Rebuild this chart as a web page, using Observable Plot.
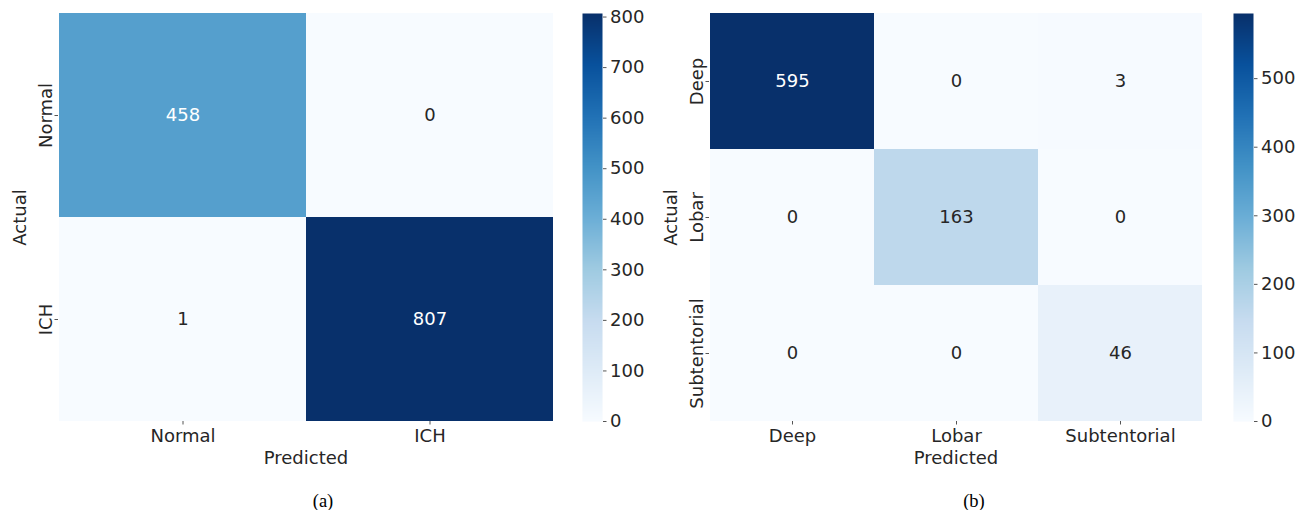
<!DOCTYPE html>
<html>
<head>
<meta charset="utf-8">
<script src="https://cdn.jsdelivr.net/npm/d3@7"></script>
<script src="https://cdn.jsdelivr.net/npm/@observablehq/plot@0.6"></script>
<style>
  body { margin: 0; background: #fff; }
  #fig { position: relative; width: 1298px; height: 510px; background: #fff; overflow: hidden; }
  #fig svg { position: absolute; top: 0; overflow: visible; max-width: none; }
  .cap {
    position: absolute; top: 501px; transform: translate(-50%, -50%);
    font-family: "Liberation Serif", "Times New Roman", serif; font-size: 18.5px; color: #000;
    line-height: 1;
  }
</style>
</head>
<body>
<div id="fig"></div>
<script>
// Hemorrhage detection: actual rows x predicted columns
const ichClasses = ["Normal", "ICH"];
const ichCounts = [
  [458, 0],
  [1, 807]
];
const ichTicks = [0, 100, 200, 300, 400, 500, 600, 700, 800];

// Hemorrhage location: actual rows x predicted columns
const locClasses = ["Deep", "Lobar", "Subtentorial"];
const locCounts = [
  [595, 0, 3],
  [0, 163, 0],
  [0, 0, 46]
];
const locTicks = [0, 100, 200, 300, 400, 500];

// Blues colour ramp
const blues = ["#f7fbff", "#deebf7", "#c6dbef", "#9ecae1", "#6baed6", "#4292c6", "#2171b5", "#08519c", "#08306b"];

const FONT = '"DejaVu Sans", sans-serif';
const FS = 18;
const INK = "#262626";
const TICK = "#555";
const H = 480, TOP = 13, BOTTOM = 421;

const fig = document.getElementById("fig");

function luminance(c) {
  const {r, g, b} = d3.rgb(c);
  const f = v => { v /= 255; return v <= 0.03928 ? v / 12.92 : Math.pow((v + 0.055) / 1.055, 2.4); };
  return 0.2126 * f(r) + 0.7152 * f(g) + 0.0722 * f(b);
}

function panel({classes, counts, ticks, svgLeft, frameL, frameR, cbL, cbR, caption, capX}) {
  const cells = counts.flatMap((row, i) => row.map((v, j) => ({actual: classes[i], predicted: classes[j], value: v})));
  const max = d3.max(cells, d => d.value);
  const color = {type: "linear", domain: [0, max], interpolate: d3.piecewise(d3.interpolateRgb, blues)};
  const scale = Plot.scale({color});
  const textFill = d => luminance(scale.apply(d.value)) > 0.408 ? INK : "#ffffff";

  const width = cbL - 10 - svgLeft;
  const heat = Plot.plot({
    width, height: H,
    marginLeft: frameL - svgLeft, marginRight: width - (frameR - svgLeft),
    marginTop: TOP, marginBottom: H - BOTTOM,
    x: {domain: classes, padding: 0, axis: null},
    y: {domain: classes, padding: 0, axis: null},
    color,
    style: {fontFamily: FONT, fontSize: FS + "px", color: INK, background: "transparent", overflow: "visible"},
    marks: [
      Plot.cell(cells, {x: "predicted", y: "actual", fill: "value", inset: 0}),
      Plot.text(cells, {x: "predicted", y: "actual", text: d => String(d.value), fill: textFill, fontSize: FS}),
      Plot.axisX({tickSize: 3.5, tickPadding: 4, stroke: TICK, fill: INK, fontSize: FS, label: null}),
      Plot.axisY({tickSize: 3.5, stroke: TICK, tickFormat: () => "", label: null}),
      Plot.text(classes, {y: d => d, text: d => d, frameAnchor: "left", dx: -7, rotate: -90,
                          textAnchor: "middle", lineAnchor: "bottom", fill: INK, fontSize: FS}),
      Plot.text(["Actual"], {text: d => d, frameAnchor: "left", dx: -38, rotate: -90,
                             textAnchor: "middle", lineAnchor: "middle", fill: INK, fontSize: FS}),
      Plot.text(["Predicted"], {text: d => d, frameAnchor: "bottom", dy: 37,
                                lineAnchor: "middle", fill: INK, fontSize: FS})
    ]
  });
  heat.style.left = svgLeft + "px";
  fig.appendChild(heat);

  // colour bar: a one-column raster sampling the same colour scale from 0 to max
  const cbLeftSvg = cbL - 10;
  const cbWidth = 80;
  const bar = Plot.plot({
    width: cbWidth, height: H,
    marginLeft: cbL - cbLeftSvg, marginRight: cbWidth - (cbR - cbLeftSvg),
    marginTop: TOP, marginBottom: H - BOTTOM,
    x: {domain: [0, 1], axis: null},
    y: {domain: [0, max], axis: null},
    color,
    style: {fontFamily: FONT, fontSize: FS + "px", color: INK, background: "transparent", overflow: "visible"},
    marks: [
      Plot.raster({fill: (x, y) => y, x1: 0, x2: 1, y1: 0, y2: max, width: 1, height: BOTTOM - TOP,
                   imageRendering: "auto"}),
      Plot.axisY({anchor: "right", ticks, tickSize: 3.5, tickPadding: 4, stroke: TICK, fill: INK, fontSize: FS, label: null})
    ]
  });
  bar.style.left = cbLeftSvg + "px";
  fig.appendChild(bar);

  const cap = document.createElement("div");
  cap.className = "cap";
  cap.style.left = capX + "px";
  cap.textContent = caption;
  fig.appendChild(cap);
}

panel({classes: ichClasses, counts: ichCounts, ticks: ichTicks,
       svgLeft: 0, frameL: 58, frameR: 553, cbL: 582, cbR: 602, caption: "(a)", capX: 323});
panel({classes: locClasses, counts: locCounts, ticks: locTicks,
       svgLeft: 640, frameL: 709, frameR: 1202, cbL: 1233, cbR: 1253, caption: "(b)", capX: 974});
</script>
</body>
</html>
